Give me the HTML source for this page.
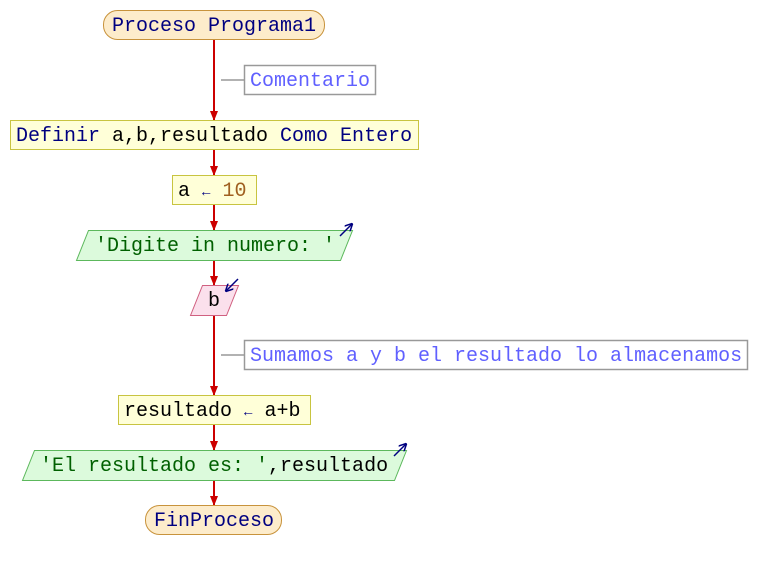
<!DOCTYPE html>
<html><head><meta charset="utf-8"><style>
html,body{margin:0;padding:0;background:#fff;}
text{font-family:"Liberation Mono",monospace;font-size:20px;}
</style></head><body>
<svg width="758" height="570" xmlns="http://www.w3.org/2000/svg">
<defs>
<marker id="ah" markerWidth="10" markerHeight="8" refX="9" refY="4" orient="auto" markerUnits="userSpaceOnUse">
<path d="M0,0 L10,4 L0,8 z" fill="#cc0000"/></marker>
<marker id="bh" markerWidth="8" markerHeight="8" refX="7" refY="4" orient="auto" markerUnits="userSpaceOnUse">
<path d="M0,0 L8,4 L0,8" fill="none" stroke="#000080" stroke-width="1.5"/></marker>
</defs>
<g stroke="#cc0000" stroke-width="2" fill="none">
<line x1="214" y1="40" x2="214" y2="120" marker-end="url(#ah)"/>
<line x1="214" y1="150" x2="214" y2="175" marker-end="url(#ah)"/>
<line x1="214" y1="205" x2="214" y2="230" marker-end="url(#ah)"/>
<line x1="214" y1="260" x2="214" y2="285" marker-end="url(#ah)"/>
<line x1="214" y1="315" x2="214" y2="395" marker-end="url(#ah)"/>
<line x1="214" y1="425" x2="214" y2="450" marker-end="url(#ah)"/>
<line x1="214" y1="480" x2="214" y2="505" marker-end="url(#ah)"/>
</g>
<g stroke="#999" stroke-width="1.5" fill="#fff">
<line x1="221" y1="80" x2="244" y2="80"/>
<rect x="244.5" y="65.5" width="131" height="29"/>
<line x1="221" y1="355" x2="244" y2="355"/>
<rect x="244.5" y="340.5" width="503" height="29"/>
</g>
<rect x="103.5" y="10.5" width="221" height="29" rx="14" fill="#fdeccb" stroke="#c8933c"/>
<rect x="145.5" y="505.5" width="136" height="29" rx="14" fill="#fdeccb" stroke="#c8933c"/>
<rect x="10.5" y="120.5" width="408" height="29" fill="#ffffd8" stroke="#c8c440"/>
<rect x="172.5" y="175.5" width="84" height="29" fill="#ffffd8" stroke="#c8c440"/>
<rect x="118.5" y="395.5" width="192" height="29" fill="#ffffd8" stroke="#c8c440"/>
<polygon points="88.5,230.5 352.5,230.5 340.5,260.5 76.5,260.5" fill="#dcfadc" stroke="#5cb85c"/>
<polygon points="34.5,450.5 406.5,450.5 394.5,480.5 22.5,480.5" fill="#dcfadc" stroke="#5cb85c"/>
<polygon points="202.5,285.5 238.5,285.5 226.5,315.5 190.5,315.5" fill="#fbe0ec" stroke="#d06080"/>
<g stroke="#000080" stroke-width="1.5" fill="none">
<line x1="340" y1="236" x2="352" y2="224" marker-end="url(#bh)"/>
<line x1="394" y1="456" x2="406" y2="444" marker-end="url(#bh)"/>
<line x1="238" y1="279" x2="226" y2="291" marker-end="url(#bh)"/>
</g>
<text x="214" y="31" text-anchor="middle" fill="#000080">Proceso Programa1</text>
<text x="250" y="86" fill="#6060ff">Comentario</text>
<text x="16" y="141" fill="#000080">Definir <tspan fill="#000">a,b,resultado</tspan> Como Entero</text>
<text x="178" y="196" fill="#000">a <tspan fill="#000080" font-size="14">←</tspan> <tspan fill="#a06020">10</tspan></text>
<text x="95" y="251" fill="#006000">'Digite in numero: '</text>
<text x="214" y="306" text-anchor="middle" fill="#000">b</text>
<text x="250" y="361" fill="#6060ff">Sumamos a y b el resultado lo almacenamos</text>
<text x="124" y="416" fill="#000">resultado <tspan fill="#000080" font-size="14">←</tspan> a+b</text>
<text x="40" y="471" fill="#006000">'El resultado es: '<tspan fill="#000">,resultado</tspan></text>
<text x="214" y="526" text-anchor="middle" fill="#000080">FinProceso</text>
</svg>
</body></html>
